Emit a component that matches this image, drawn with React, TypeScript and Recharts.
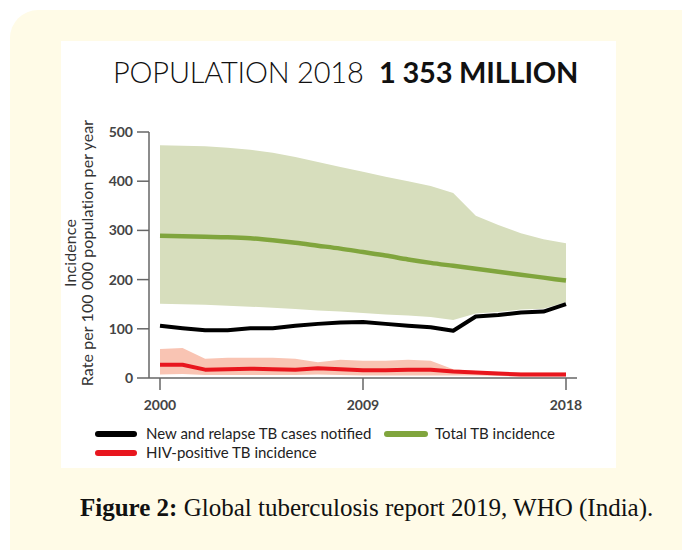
import { ComposedChart, Area, Line, XAxis, YAxis } from "recharts"

const years = [2000, 2001, 2002, 2003, 2004, 2005, 2006, 2007, 2008, 2009, 2010, 2011, 2012, 2013, 2014, 2015, 2016, 2017, 2018]

// Total TB incidence, best estimate and uncertainty bounds
const totalInc = [289, 288, 287, 286, 284, 280, 275, 269, 263, 256, 249, 241, 234, 228, 222, 216, 210, 204, 198]
const totalLo = [151, 150, 149, 147, 145, 143, 140, 137, 135, 132, 129, 127, 124, 118, 131, 134, 139, 141, 154]
const totalHi = [473, 472, 471, 468, 464, 458, 449, 439, 429, 419, 409, 400, 390, 376, 330, 311, 294, 282, 274]

// New and relapse TB cases notified
const notified = [106, 101, 97, 97, 101, 101, 106, 110, 113, 114, 110, 106, 103, 96, 125, 128, 133, 135, 150]

// HIV-positive TB incidence
const hivInc = [27, 27, 17, 18, 19, 18, 17, 20, 18, 16, 16, 17, 17, 13, 11, 9, 7, 7, 7]
const hivLo = [7, 8, 6, 6, 6, 6, 6, 7, 6, 5, 5, 5, 5, 5, 5, 4, 3, 3, 3]
const hivHi = [59, 61, 39, 41, 41, 41, 39, 32, 37, 35, 35, 37, 35, 18, 14, 12, 11, 11, 11]

const xTicks = [2000, 2009, 2018]
const yTicks = [0, 100, 200, 300, 400, 500]

const data = years.map((year, i) => ({
    year,
    total: totalInc[i],
    totalBand: [totalLo[i], totalHi[i]],
    notified: notified[i],
    hiv: hivInc[i],
    hivBand: [hivLo[i], hivHi[i]],
}))

const font = "Lato, 'Open Sans', sans-serif"
const tickStyle = { fill: "#444", fontSize: 14, fontWeight: 700, fontFamily: font }

function Swatch({ color, left, top, width }: { color: string; left: number; top: number; width: number }) {
    return (
        <div
            style={{
                position: "absolute",
                left,
                top: top - 3,
                width,
                height: 6,
                borderRadius: 3,
                background: color,
            }}
        />
    )
}

function LegendText({ left, top, children }: { left: number; top: number; children: string }) {
    return (
        <div
            style={{
                position: "absolute",
                left,
                top: top - 10,
                height: 20,
                lineHeight: "20px",
                fontFamily: font,
                fontSize: 15,
                color: "#222",
                whiteSpace: "nowrap",
            }}
        >
            {children}
        </div>
    )
}

function AxisTitle({ cx, children }: { cx: number; children: string }) {
    return (
        <div
            style={{
                position: "absolute",
                left: cx - 150,
                top: 253 - 10,
                width: 300,
                height: 20,
                lineHeight: "20px",
                textAlign: "center",
                transform: "rotate(-90deg)",
                fontFamily: font,
                fontSize: 16,
                letterSpacing: 0.1,
                color: "#333",
                whiteSpace: "nowrap",
            }}
        >
            {children}
        </div>
    )
}

export default function App() {
    return (
        <div style={{ position: "fixed", left: 0, top: 0, width: 682, height: 550, overflow: "hidden", background: "#fff" }}>
            <div
                style={{
                    position: "absolute",
                    left: 10,
                    top: 10,
                    width: 720,
                    height: 580,
                    borderRadius: 28,
                    background: "#FFFBE7",
                }}
            />
            <div style={{ position: "absolute", left: 61, top: 41, width: 555, height: 427, background: "#fff" }} />

            <div
                style={{
                    position: "absolute",
                    left: 113,
                    top: 54,
                    fontFamily: font,
                    fontSize: 29,
                    fontWeight: 300,
                    color: "#111",
                    whiteSpace: "nowrap",
                    letterSpacing: -0.2,
                }}
            >
                POPULATION 2018&nbsp;&nbsp;<b style={{ fontWeight: 700 }}>1 353 MILLION</b>
            </div>

            {/* y axis title, two rotated lines */}
            <AxisTitle cx={70}>Incidence</AxisTitle>
            <AxisTitle cx={87}>Rate per 100 000 population per year</AxisTitle>

            <div style={{ position: "absolute", left: 0, top: 0 }}>
                <ComposedChart
                    width={682}
                    height={550}
                    data={data}
                    margin={{ top: 132, right: 105, left: 89, bottom: 132 }}
                >
                    <XAxis
                        dataKey="year"
                        type="number"
                        domain={[2000, 2018]}
                        ticks={xTicks}
                        padding={{ left: 11, right: 11 }}
                        height={40}
                        tickSize={12}
                        tickMargin={10}
                        axisLine={{ stroke: "#666", strokeWidth: 1.5 }}
                        tickLine={{ stroke: "#666", strokeWidth: 1.5 }}
                        tick={tickStyle}
                    />
                    <YAxis
                        type="number"
                        domain={[0, 500]}
                        ticks={yTicks}
                        width={60}
                        tickSize={12}
                        tickMargin={4}
                        axisLine={{ stroke: "#666", strokeWidth: 1.5 }}
                        tickLine={{ stroke: "#666", strokeWidth: 1.5 }}
                        tick={tickStyle}
                    />
                    <Area
                        dataKey="totalBand"
                        type="linear"
                        stroke="none"
                        fill="#D7DEBD"
                        fillOpacity={1}
                        isAnimationActive={false}
                    />
                    <Area
                        dataKey="hivBand"
                        type="linear"
                        stroke="none"
                        fill="#F9C4B3"
                        fillOpacity={1}
                        isAnimationActive={false}
                    />
                    <Line
                        dataKey="total"
                        type="monotone"
                        stroke="#80A53D"
                        strokeWidth={4.5}
                        dot={false}
                        isAnimationActive={false}
                    />
                    <Line
                        dataKey="notified"
                        type="linear"
                        stroke="#000"
                        strokeWidth={4}
                        strokeLinejoin="round"
                        dot={false}
                        isAnimationActive={false}
                    />
                    <Line
                        dataKey="hiv"
                        type="linear"
                        stroke="#E8161E"
                        strokeWidth={4}
                        strokeLinejoin="round"
                        dot={false}
                        isAnimationActive={false}
                    />
                </ComposedChart>
            </div>

            <Swatch color="#000" left={95} top={434} width={42} />
            <LegendText left={146} top={433}>New and relapse TB cases notified</LegendText>
            <Swatch color="#80A53D" left={384} top={434} width={44} />
            <LegendText left={435} top={433}>Total TB incidence</LegendText>
            <Swatch color="#E8161E" left={95} top={453} width={42} />
            <LegendText left={146} top={452}>HIV-positive TB incidence</LegendText>

            <div
                style={{
                    position: "absolute",
                    left: 80,
                    top: 494,
                    fontFamily: "'Liberation Serif', serif",
                    fontSize: 25,
                    color: "#111",
                    whiteSpace: "nowrap",
                }}
            >
                <b>Figure 2:</b> Global tuberculosis report 2019, WHO (India).
            </div>
        </div>
    )
}
